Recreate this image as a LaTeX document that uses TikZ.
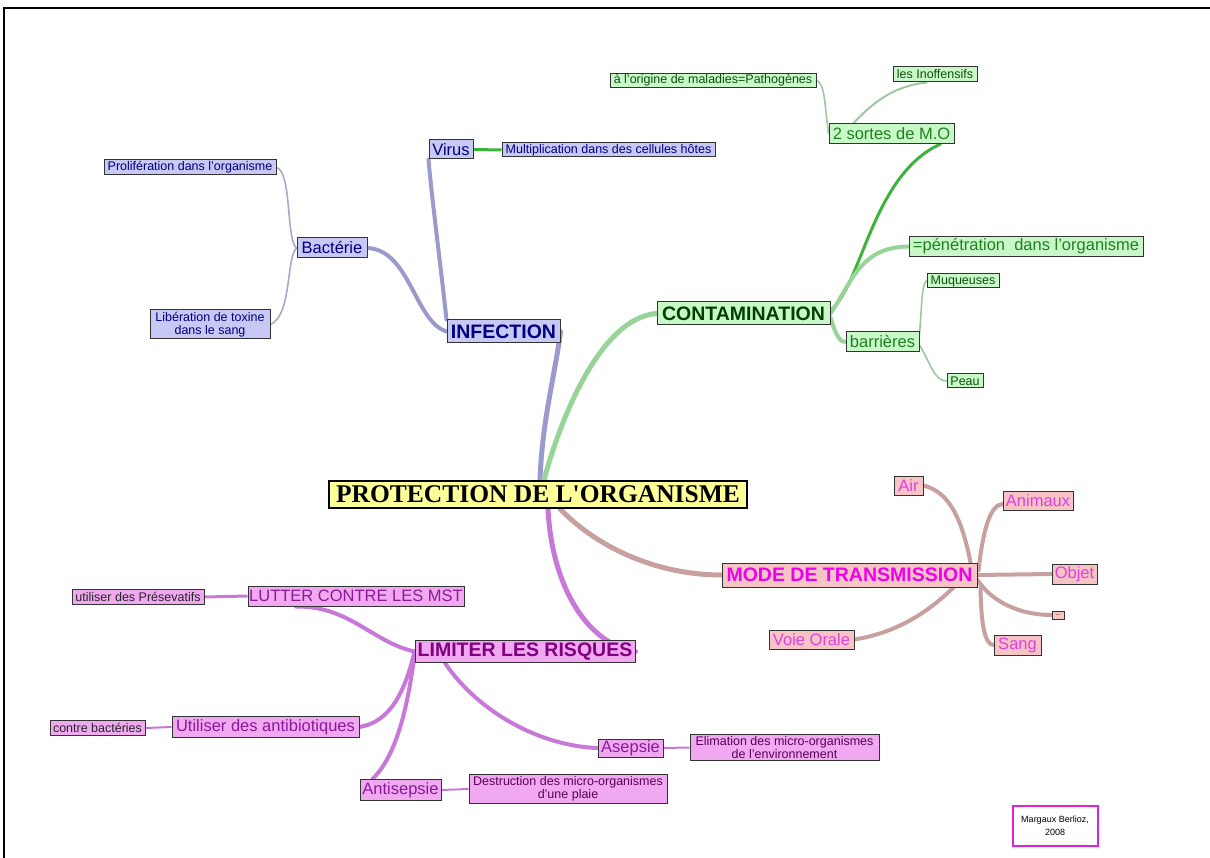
\documentclass[tikz,border=0pt]{standalone}
\usepackage{fontspec}
\setmainfont{Liberation Sans}
\newfontfamily\titlefont{Liberation Serif}
\usetikzlibrary{backgrounds}
\definecolor{bfill}{HTML}{C8C8F4}
\definecolor{gfill}{HTML}{C8F8C8}
\definecolor{pfill}{HTML}{F6C4C4}
\definecolor{vfill}{HTML}{F0A8F0}
\definecolor{tfill}{HTML}{FFFF99}
\definecolor{navy}{HTML}{000080}
\definecolor{dgreen}{HTML}{004000}
\definecolor{mgreen}{HTML}{208020}
\definecolor{sgreen}{HTML}{105010}
\definecolor{magtxt}{HTML}{EE00EE}
\definecolor{pinktxt}{HTML}{E040E0}
\definecolor{purp}{HTML}{800080}
\definecolor{purp2}{HTML}{8A1A9A}
\definecolor{bline}{HTML}{9A9ACC}
\definecolor{bthin}{HTML}{A8A8C8}
\definecolor{gline}{HTML}{98D498}
\definecolor{gdark}{HTML}{3CB43C}
\definecolor{gthin}{HTML}{A0C8A0}
\definecolor{pline}{HTML}{C8A0A0}
\definecolor{vline}{HTML}{C878D8}
\definecolor{frame}{HTML}{E020E0}
\begin{document}
\begin{tikzpicture}[x=1pt,y=-1pt,
  box/.style={draw=black!80,line width=1pt,inner sep=0pt,align=center},
  sz/.style 2 args={minimum width=#1pt,minimum height=#2pt},
  fsmall/.style={font=\fontsize{12.5}{13.5}\selectfont},
  fmed/.style={font=\fontsize{16.5}{18}\selectfont},
  fbig/.style={font=\bfseries\fontsize{19.5}{22}\selectfont},
  bnode/.style={box,fill=bfill,text=navy},
  gnode/.style={box,fill=gfill},
  pnode/.style={box,fill=pfill,text=pinktxt},
  vnode/.style={box,fill=vfill},
  thick1/.style={line width=5pt,line cap=round},
  thick2/.style={line width=4pt,line cap=round},
  thin1/.style={line width=1.6pt,line cap=round}
]
\useasboundingbox (0,0) rectangle (1210,858);
\draw[line width=2pt] (4,858) -- (4,8) -- (1210,8);

% root
\node[box,fill=tfill,line width=1.8pt,draw=black,sz={418}{27},font=\titlefont\bfseries\fontsize{25.5}{28}\selectfont] (root) at (538,494.5) {PROTECTION DE L'ORGANISME};

% infection
\node[bnode,fbig,sz={113}{23}] (inf) at (503.5,331.5) {INFECTION};
\node[bnode,fmed,sz={44}{19}] (virus) at (451,149.5) {Virus};
\node[bnode,fsmall,sz={213}{14}] (mult) at (608.5,150) {Multiplication dans des cellules hôtes};
\node[bnode,fmed,sz={70}{20}] (bact) at (332,248) {Bactérie};
\node[bnode,fsmall,sz={172}{15}] (prol) at (190,167.5) {Prolifération dans l'organisme};
\node[bnode,fsmall,sz={120}{29}] (lib) at (210,324.5) {Libération de toxine\\dans le sang};

% contamination
\node[gnode,fbig,text=dgreen,sz={173}{23}] (cont) at (743.5,313.5) {CONTAMINATION};
\node[gnode,fmed,text=mgreen,sz={125}{20}] (mo) at (891.5,133.5) {2 sortes de M.O};
\node[gnode,fsmall,text=sgreen,sz={206}{14}] (path) at (713,80.5) {à l'origine de maladies=Pathogènes};
\node[gnode,fsmall,text=sgreen,sz={84}{15}] (inof) at (935,74.5) {les Inoffensifs};
\node[gnode,fmed,text=mgreen,sz={234}{20}] (pen) at (1026,246.5) {=pénétration\ \ dans l'organisme};
\node[gnode,fmed,text=mgreen,sz={73}{20}] (barr) at (882.5,342) {barrières};
\node[gnode,fsmall,text=sgreen,sz={72}{14}] (muq) at (963,281) {Muqueuses};
\node[gnode,fsmall,text=sgreen,sz={36}{14}] (peau) at (965,381) {Peau};

% mode de transmission
\node[pnode,fbig,text=magtxt,sz={255}{24}] (mode) at (849.5,575) {MODE DE TRANSMISSION};
\node[pnode,fmed,sz={29}{19}] (air) at (908.5,485.5) {Air};
\node[pnode,fmed,sz={70}{19}] (anim) at (1038,501) {Animaux};
\node[pnode,fmed,sz={45}{20}] (objet) at (1074.5,574) {Objet};
\node[pnode,font=\fontsize{6}{6}\selectfont,text=black,sz={12}{8}] (dots) at (1058,615) {...};
\node[pnode,fmed,sz={47}{20}] (sang) at (1017.5,645) {Sang};
\node[pnode,fmed,sz={85}{19}] (voie) at (811.5,639.5) {Voie Orale};

% limiter les risques
\node[vnode,fbig,text=purp,sz={220}{22}] (lim) at (525,651.5) {LIMITER LES RISQUES};
\node[vnode,fmed,text=purp2,sz={216}{20}] (lut) at (356,596) {LUTTER CONTRE LES MST};
\node[vnode,fsmall,text=black!85,sz={132}{15}] (pres) at (138,597) {utiliser des Présevatifs};
\node[vnode,fmed,text=purp2,sz={187}{21}] (antib) at (265.5,727) {Utiliser des antibiotiques};
\node[vnode,fsmall,text=black!85,sz={95}{15}] (contre) at (97.5,728) {contre bactéries};
\node[vnode,fmed,text=purp2,sz={65}{18}] (asep) at (630.5,748) {Asepsie};
\node[vnode,fsmall,text=purp!70!black,sz={189}{26}] (elim) at (784.5,747.5) {Elimation des micro-organismes\\de l'environnement};
\node[vnode,fmed,text=purp2,sz={81}{21}] (antis) at (400.5,790) {Antisepsie};
\node[vnode,fsmall,text=purp!70!black,sz={198}{29}] (destr) at (568,789) {Destruction des micro-organismes\\d'une plaie};

% signature
\node[draw=frame,line width=2pt,fill=white,inner sep=0pt,sz={85}{40},align=center,font=\fontsize{9}{13}\selectfont] (sig) at (1055,826) {Margaux Berlioz,\\2008};

\begin{scope}[on background layer]
% infection branch
\draw[bline,thick1] ([xshift=2pt]root.north) .. controls (542,420) and (556,370) .. (inf.east);
\draw[bline,thick2] (inf.north west) .. controls (440,260) and (432,200) .. (virus.south west);
\draw[bline,thick2] (inf.west) .. controls (415,322) and (410,250) .. (bact.east);
\draw[bthin,thin1] (bact.west) .. controls (286,240) and (292,172) .. (prol.east);
\draw[bthin,thin1] (bact.west) .. controls (286,258) and (292,315) .. (lib.east);
\draw[gdark,line width=3pt] (virus.east) -- (mult.west);
% contamination branch
\draw[gline,thick1] ([xshift=6pt]root.north) .. controls (560,420) and (600,318) .. (cont.west);
\draw[gdark,line width=3pt,line cap=round] ([yshift=3pt]cont.east) .. controls (862,285) and (872,175) .. ([xshift=-14pt]mo.south east);
\draw[gline,thick2] (cont.east) .. controls (852,282) and (860,247) .. (pen.west);
\draw[gline,thick2] ([yshift=-4pt]cont.east) .. controls (836,336) and (840,342) .. (barr.west);
\draw[gthin,thin1] (mo.west) .. controls (824,100) and (825,84) .. (path.east);
\draw[gthin,line width=2pt] ([xshift=-38pt]mo.north) .. controls (872,104) and (892,86) .. ([xshift=-8pt]inof.south);
\draw[gthin,thin1] ([yshift=7pt]barr.east) .. controls (922,300) and (922,284) .. (muq.west);
\draw[gthin,thin1] ([yshift=-3pt]barr.east) .. controls (930,362) and (934,381) .. (peau.west);
% mode de transmission branch
\draw[pline,thick1] ([xshift=22pt]root.south) .. controls (600,550) and (660,575) .. (mode.west);
\draw[pline,thick2] ([xshift=-7pt]mode.north east) .. controls (962,520) and (950,492) .. (air.east);
\draw[pline,thick2] ([xshift=1pt,yshift=-8pt]mode.north east) .. controls (983,530) and (990,505) .. ([yshift=-3pt]anim.west);
\draw[pline,thick2] (mode.east) -- (objet.west);
\draw[pline,thick2] ([yshift=-5pt]mode.east) .. controls (992,602) and (1020,615) .. (dots.west);
\draw[pline,thick2] ([xshift=3pt]mode.south east) .. controls (981,620) and (984,645) .. (sang.west);
\draw[pline,thick2] ([xshift=-24pt]mode.south east) .. controls (930,610) and (900,632) .. (voie.east);
% limiter les risques branch
\draw[vline,thick1] ([xshift=10pt]root.south) .. controls (552,590) and (590,645) .. (lim.east);
\draw[vline,thick2] (lim.west) .. controls (372,642) and (350,606) .. ([xshift=-60pt]lut.south);
\draw[vline,thick2] (lim.west) .. controls (405,692) and (390,722) .. (antib.east);
\draw[vline,thick2] ([yshift=-3pt]lim.west) .. controls (406,722) and (392,760) .. ([xshift=-28pt]antis.north);
\draw[vline,thick2] ([xshift=-80pt]lim.south) .. controls (478,712) and (540,746) .. (asep.west);
\draw[vline,line width=3pt] (pres.east) -- (lut.west);
\draw[vline,line width=2pt] (contre.east) -- (antib.west);
\draw[vline,line width=2pt] (asep.east) -- (elim.west);
\draw[vline,line width=2pt] (antis.east) -- (destr.west);
\end{scope}
\end{tikzpicture}
\end{document}
